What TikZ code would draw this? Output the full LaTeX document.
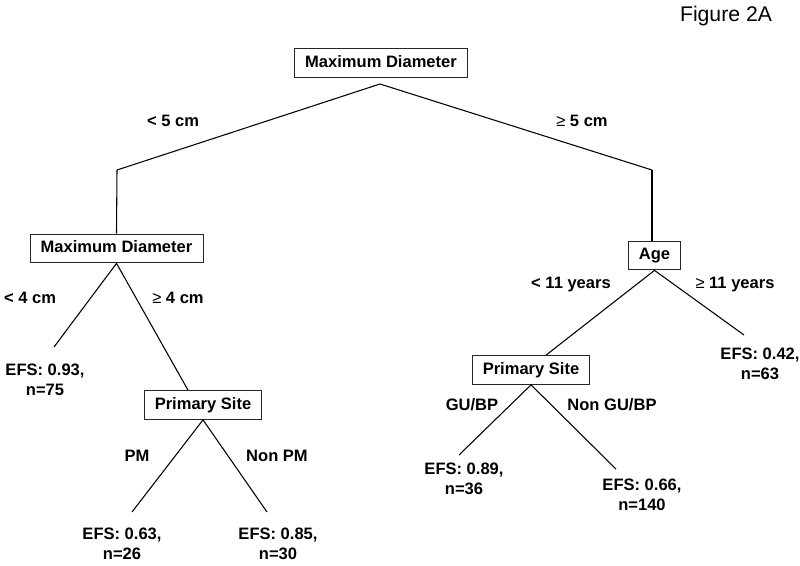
\documentclass[tikz,border=0pt]{standalone}
\usepackage{fontspec}
\setmainfont{Liberation Sans}
\newcommand{\mygeq}{{\mdseries ≥}}
\begin{document}
\begin{tikzpicture}[x=0.75pt,y=-0.75pt,
  txt/.style={font=\fontsize{12.4}{14.8}\selectfont\bfseries, inner sep=0pt},
  box/.style={txt, draw=black!85, line width=0.7pt, inner xsep=8pt, inner ysep=5pt, text height=9pt, text depth=2.6pt},
  leaf/.style={txt, align=center},
  edge/.style={line width=0.8pt, black}]
\useasboundingbox (0,0) rectangle (800,565);
\fill[white] (0,0) rectangle (800,565);

\node[font=\fontsize{15.9}{18}\selectfont, inner sep=0pt] (fig) at (726,16) {Figure 2A};

% boxes
\node[box] (md1) at (381,63) {Maximum Diameter};
\node[box] (md2) at (116.5,248.5) {Maximum Diameter};
\node[box] (age) at (654.5,255.5) {Age};
\node[box] (ps1) at (203,405) {Primary Site};
\node[box] (ps2) at (531,370) {Primary Site};

% junctions and line ends
\coordinate (j0) at (380,84);
\coordinate (jl) at (117,170);
\coordinate (jr) at (652,170);
\coordinate (e1) at (54,347);
\coordinate (e2) at (132,512);
\coordinate (e3) at (267,512);
\coordinate (e4) at (744,335);
\coordinate (e5) at (459,455);
\coordinate (e6) at (616,469);

% edges
\draw[edge] (jl) -- (j0) -- (jr);
\draw[edge] (jl) -- (md2.north);
\draw[edge] (jr) -- (jr |- age.north);
\draw[edge] (e1) -- (md2.south) -- (ps1.north -| 188,0);
\draw[edge] (e2) -- (ps1.south) -- (e3);
\draw[edge] (ps2.north -| 546,0) -- (age.south) -- (e4);
\draw[edge] (e5) -- (ps2.south) -- (e6);

% edge labels
\node[txt] (l1) at (173,121) {< 5 cm};
\node[txt] (l2) at (582,121) {\mygeq\ 5 cm};
\node[txt] (l3) at (30,298) {< 4 cm};
\node[txt] (l4) at (178,298) {\mygeq\ 4 cm};
\node[txt] (l5) at (571,285) {< 11 years};
\node[txt] (l6) at (735,285) {\mygeq\ 11 years};
\node[txt] (l7) at (137,456) {PM};
\node[txt] (l8) at (277,456) {Non PM};
\node[txt] (l9) at (472,405) {GU/BP};
\node[txt] (l10) at (612,405) {Non GU/BP};

% leaves
\node[leaf] (f1) at (45,380) {EFS: 0.93,\\n=75};
\node[leaf] (f2) at (760,364) {EFS: 0.42,\\n=63};
\node[leaf] (f3) at (122,543.5) {EFS: 0.63,\\n=26};
\node[leaf] (f4) at (278,543.5) {EFS: 0.85,\\n=30};
\node[leaf] (f5) at (464,479) {EFS: 0.89,\\n=36};
\node[leaf] (f6) at (642,494.5) {EFS: 0.66,\\n=140};
\end{tikzpicture}
\end{document}
